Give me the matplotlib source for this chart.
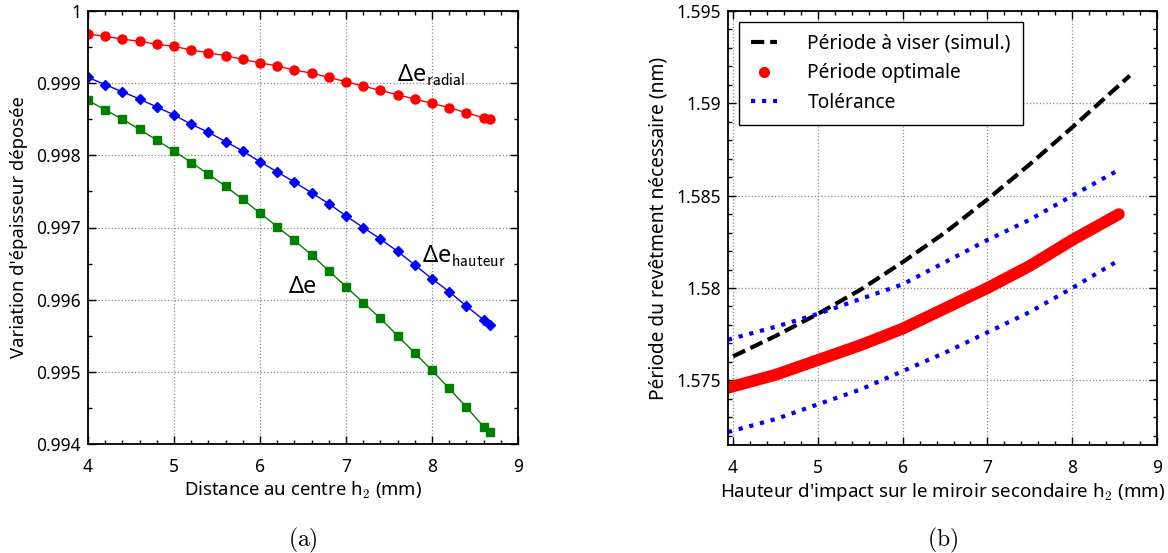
import numpy as np
import matplotlib
matplotlib.use("Agg")
import matplotlib.pyplot as plt
from matplotlib.lines import Line2D
from matplotlib.ticker import MultipleLocator, FormatStrFormatter

plt.rcParams['font.family'] = ['Noto Sans', 'DejaVu Sans']
plt.rcParams['mathtext.fontset'] = 'cm'

# --- (a) thickness variation vs distance to centre
h_a = [4.0, 4.2, 4.4, 4.6, 4.8, 5.0, 5.2, 5.4, 5.6, 5.8, 6.0, 6.2, 6.4,
       6.6, 6.8, 7.0, 7.2, 7.4, 7.6, 7.8, 8.0, 8.2, 8.4, 8.6, 8.67]
de_radial = [0.99968, 0.99965, 0.99961, 0.99958, 0.99954, 0.99951, 0.99946,
             0.99942, 0.99938, 0.99933, 0.99928, 0.99924, 0.99918, 0.99914,
             0.99908, 0.99902, 0.99896, 0.99890, 0.99884, 0.99878, 0.99872,
             0.99866, 0.99859, 0.99852, 0.99850]
de_hauteur = [0.99908, 0.99898, 0.99888, 0.99878, 0.99867, 0.99856, 0.99843,
              0.99832, 0.99819, 0.99806, 0.99791, 0.99777, 0.99763, 0.99748,
              0.99733, 0.99716, 0.99700, 0.99684, 0.99667, 0.99648, 0.99629,
              0.99611, 0.99591, 0.99572, 0.99565]
de_total = [0.99876, 0.99863, 0.99850, 0.99836, 0.99821, 0.99806, 0.99790,
            0.99774, 0.99757, 0.99739, 0.99720, 0.99701, 0.99682, 0.99662,
            0.99640, 0.99618, 0.99596, 0.99574, 0.99550, 0.99526, 0.99502,
            0.99477, 0.99451, 0.99424, 0.99416]

# --- (b) required coating period vs impact height
h_vis = [4.0, 4.5, 5.0, 5.5, 6.0, 6.5, 7.0, 7.5, 8.0, 8.68]
p_vis = [1.5763, 1.5774, 1.5786, 1.5799, 1.5814, 1.5830, 1.5848, 1.5867, 1.5887, 1.5915]
h_opt = [3.94, 4.5, 5.0, 5.5, 6.0, 6.5, 7.0, 7.5, 8.0, 8.55]
p_opt = [1.5746, 1.5753, 1.5761, 1.5769, 1.5778, 1.5789, 1.5800, 1.5812, 1.5826, 1.5840]
p_tol_hi = [1.5772, 1.5779, 1.5786, 1.5794, 1.5802, 1.5814, 1.5826, 1.5837, 1.5850, 1.5864]
p_tol_lo = [1.5722, 1.5729, 1.5737, 1.5745, 1.5755, 1.5765, 1.5776, 1.5787, 1.5800, 1.5815]

TICK_FS = 12.5
LAB_FS = 13.3

fig = plt.figure(figsize=(11.68, 5.53), dpi=100)
ax1 = fig.add_axes([88 / 1168, 109 / 553, 430 / 1168, 433 / 553])
ax2 = fig.add_axes([728 / 1168, 108 / 553, 429 / 1168, 434 / 553])


def style(ax):
    ax.tick_params(which='both', direction='in', top=True, right=True,
                   labelsize=TICK_FS, width=1.0)
    ax.tick_params(axis='x', pad=10)
    ax.tick_params(axis='y', pad=5)
    ax.tick_params(which='major', length=6)
    ax.tick_params(which='minor', length=3)
    ax.grid(True, which='major', linestyle=':', color='0.55', linewidth=0.9)
    for s in ax.spines.values():
        s.set_linewidth(1.3)
    ax.set_axisbelow(True)


ax1.plot(h_a, de_radial, '-o', color='red', lw=1, ms=6.5)
ax1.plot(h_a, de_hauteur, '-D', color='blue', lw=1, ms=5.5)
ax1.plot(h_a, de_total, '-s', color='green', lw=1, ms=5.5)
ax1.text(7.59, 0.99911, r'Δe$_{\mathsf{radial}}$', fontsize=17, va='center')
ax1.text(7.88, 0.99660, r'Δe$_{\mathsf{hauteur}}$', fontsize=17, va='center')
ax1.text(6.33, 0.99618, 'Δe', fontsize=17, va='center')
ax1.set_xlim(4, 9)
ax1.set_ylim(0.994, 1.0)
ax1.xaxis.set_major_locator(MultipleLocator(1))
ax1.xaxis.set_minor_locator(MultipleLocator(0.2))
ax1.yaxis.set_major_locator(MultipleLocator(0.001))
ax1.yaxis.set_minor_locator(MultipleLocator(0.0005))
ax1.yaxis.set_major_formatter(FormatStrFormatter('%g'))
ax1.set_xlabel(r'Distance au centre h$_{\mathsf{2}}$ (mm)', fontsize=LAB_FS, labelpad=3)
ax1.set_ylabel("Variation d'épaisseur déposée", fontsize=LAB_FS, labelpad=6)
style(ax1)

ax2.plot(h_vis, p_vis, '--', color='black', lw=3, dashes=(3.2, 1.4))
ax2.plot(h_opt, p_opt, '-', color='red', lw=8.5, solid_capstyle='round')
ax2.plot(h_opt, p_tol_hi, ':', color='blue', lw=3)
ax2.plot(h_opt, p_tol_lo, ':', color='blue', lw=3)
ax2.set_xlim(3.94, 9)
ax2.set_ylim(1.5715, 1.595)
ax2.xaxis.set_major_locator(MultipleLocator(1))
ax2.xaxis.set_minor_locator(MultipleLocator(0.2))
ax2.yaxis.set_major_locator(MultipleLocator(0.005))
ax2.yaxis.set_minor_locator(MultipleLocator(0.001))
ax2.yaxis.set_major_formatter(FormatStrFormatter('%g'))
ax2.set_xlabel(r"Hauteur d'impact sur le miroir secondaire h$_{\mathsf{2}}$ (mm)", fontsize=LAB_FS + 0.2, labelpad=3)
ax2.set_ylabel('Période du revêtment nécessaire (nm)', fontsize=LAB_FS + 0.5, labelpad=6)
style(ax2)

handles = [Line2D([], [], color='black', ls='--', lw=3, dashes=(3.2, 1.4)),
           Line2D([], [], color='red', marker='o', ls='none', ms=7),
           Line2D([], [], color='blue', ls=':', lw=3)]
leg = ax2.legend(handles, ['Période à viser (simul.)', 'Période optimale', 'Tolérance'],
                 loc='upper left', fontsize=13.8, fancybox=False, framealpha=1,
                 edgecolor='black', borderpad=0.62, handlelength=1.35,
                 handletextpad=1.6, labelspacing=0.5, borderaxespad=0.57)
leg.get_frame().set_linewidth(1.0)

fig.text(303 / 1168, 1 - 540 / 553, r'$\mathrm{(a)}$', fontsize=17, ha='center', va='center')
fig.text(943 / 1168, 1 - 540 / 553, r'$\mathrm{(b)}$', fontsize=17, ha='center', va='center')

fig.savefig('out.png', dpi=100)
